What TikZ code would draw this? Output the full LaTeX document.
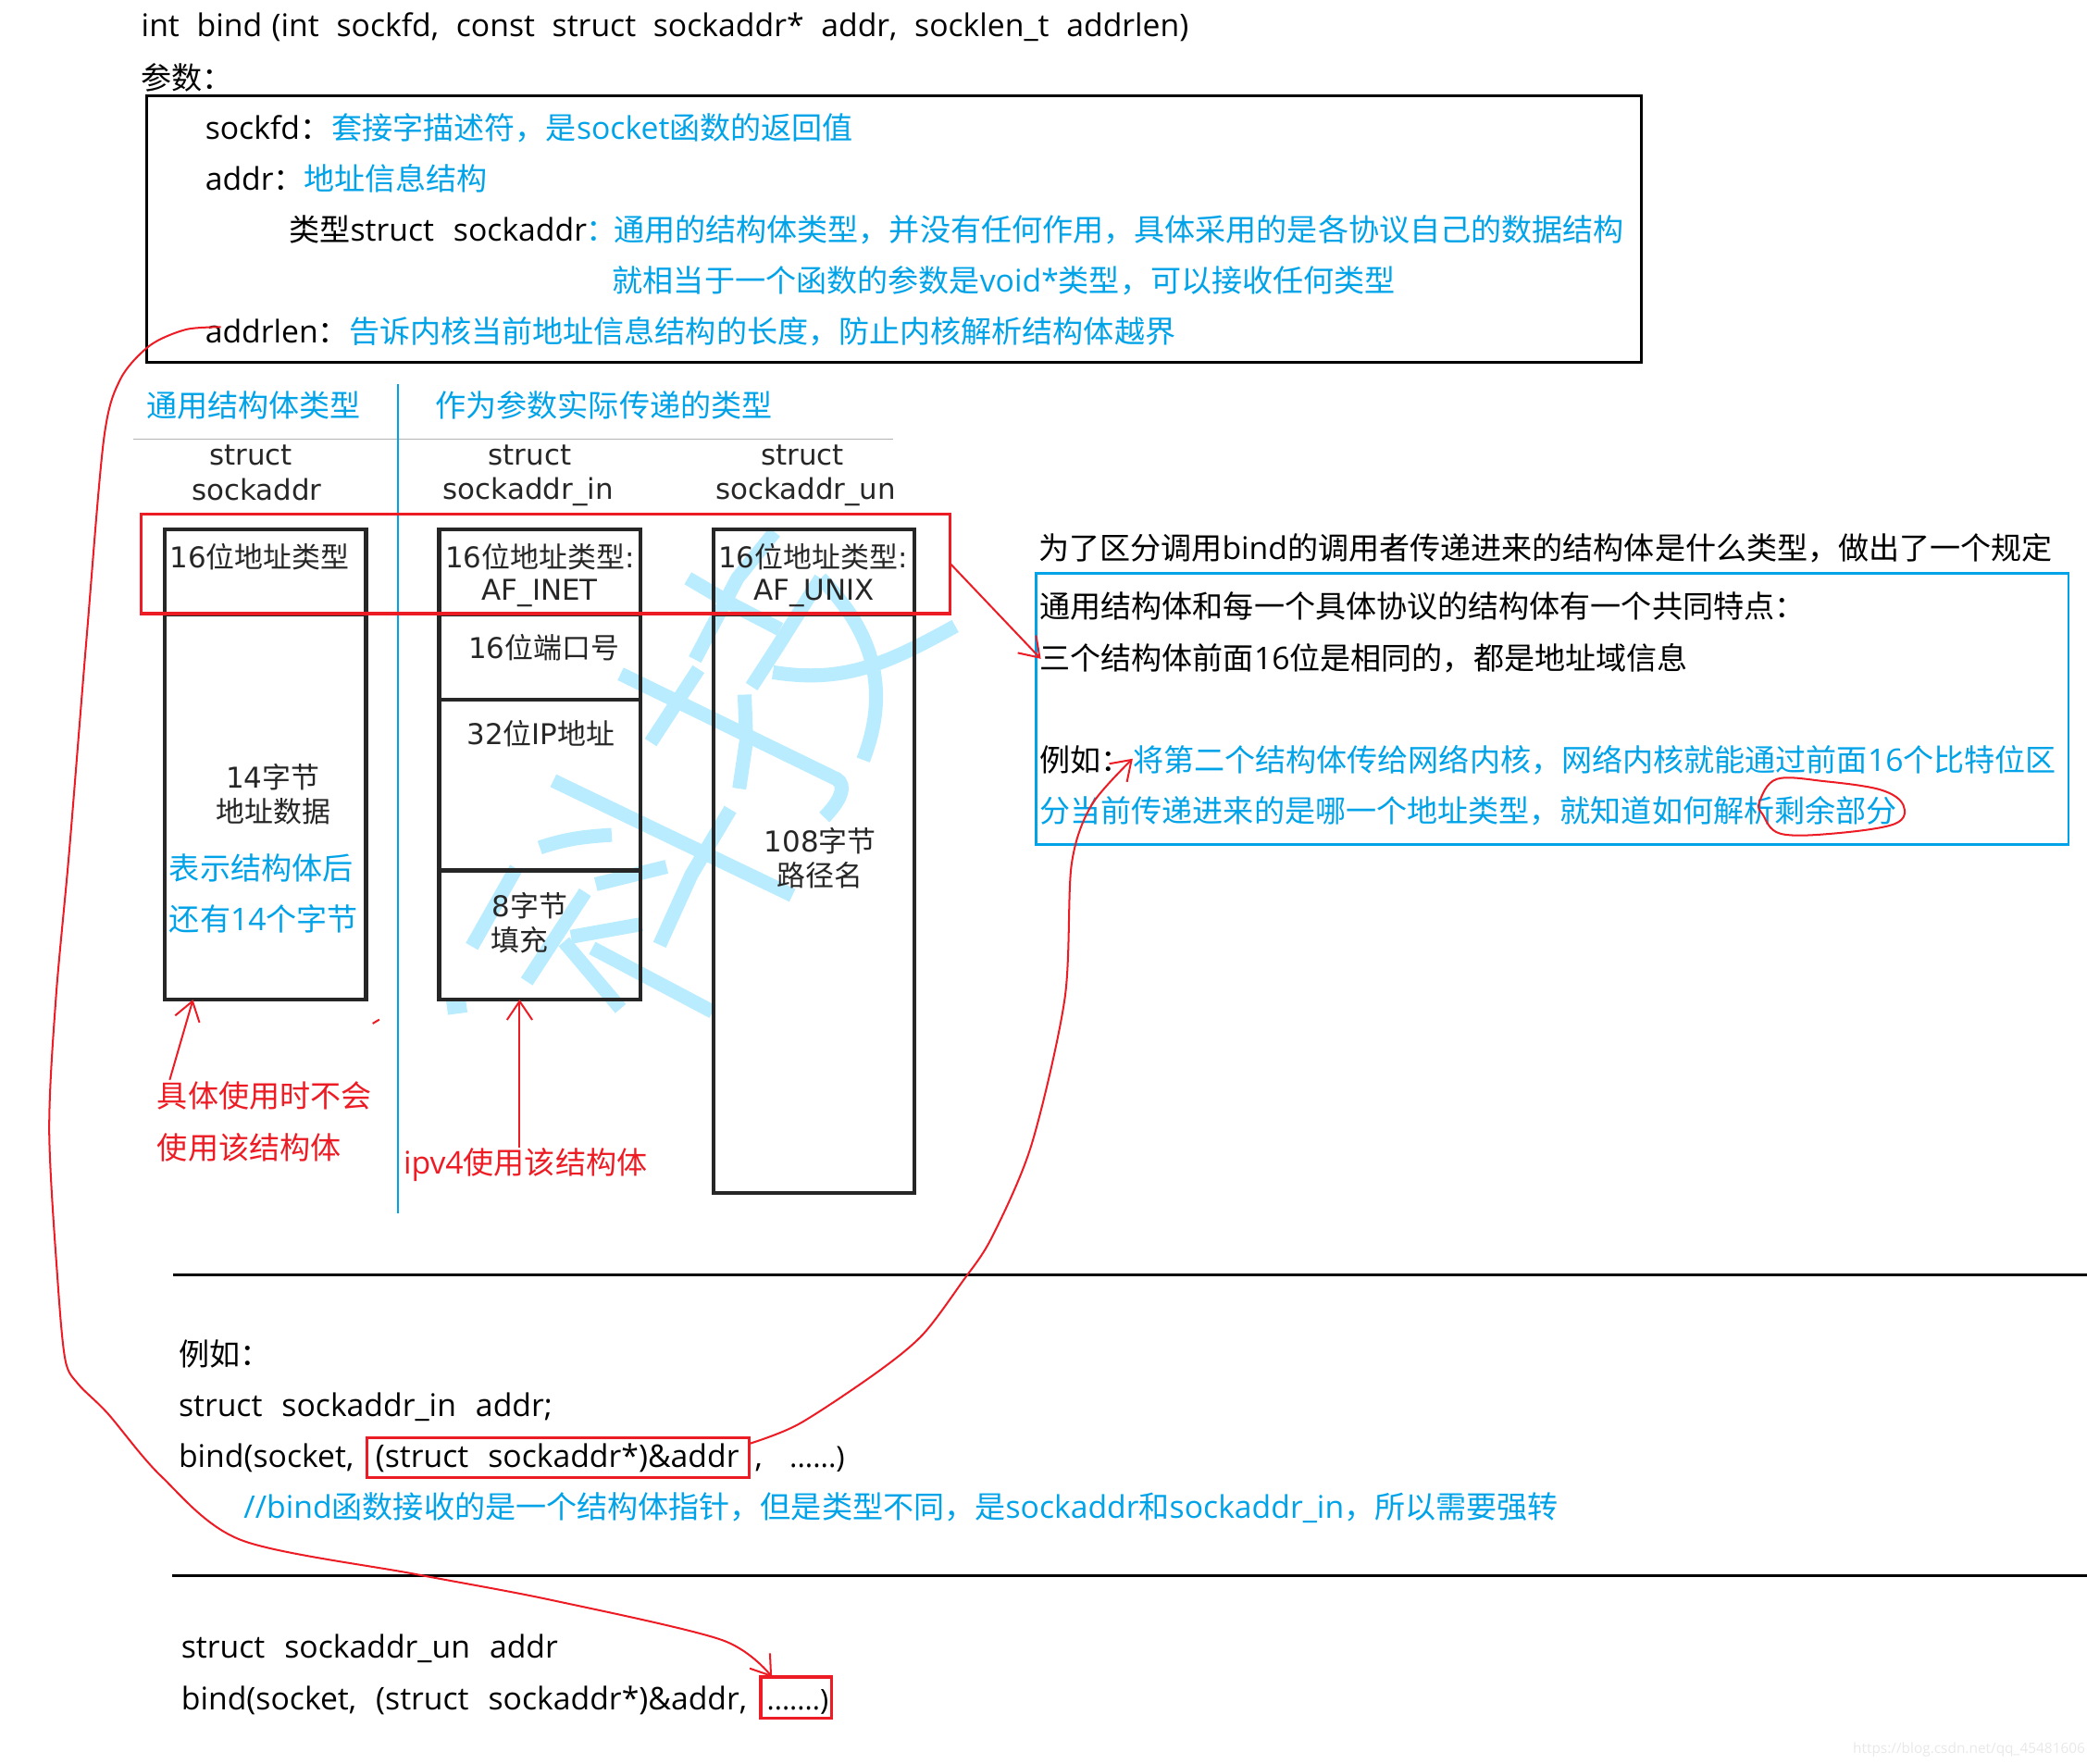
\documentclass[tikz,border=0pt]{standalone}
\usepackage{fontspec}
\setmainfont[Scale=1.02,WordSpace=1.2]{Open Sans}
\newfontfamily\cjk{Noto Sans CJK SC}
\newfontfamily\dv{DejaVu Sans}
\newcommand{\zh}[1]{{\cjk #1}}
\newcommand{\gap}{\hspace{13pt}}
\usetikzlibrary{positioning,arrows.meta}
\definecolor{skyblue}{RGB}{0,162,232}
\definecolor{paintred}{RGB}{237,28,36}
\definecolor{markblue}{RGB}{186,236,255}
\tikzstyle{txt} = [font=\fontsize{23}{28}\selectfont, anchor=base west, inner sep=0pt, text=black, yshift=-0.8pt]
\tikzstyle{bluetxt} = [txt, text=skyblue]
\tikzstyle{redtxt} = [txt, text=paintred]
\tikzstyle{celltxt} = [font=\dv\fontsize{21.5}{25}\selectfont, inner sep=0pt, text=black!85]
\tikzstyle{cell} = [rectangle, draw=black!85, line width=3pt, minimum width=151pt, inner sep=0pt, outer sep=0pt]
\tikzstyle{redbox} = [rectangle, draw=paintred, line width=2.2pt, inner sep=0pt, outer sep=0pt]
\tikzstyle{bluebox} = [rectangle, draw=skyblue, line width=2pt, inner sep=0pt, outer sep=0pt]
\tikzstyle{blackbox} = [rectangle, draw=black, line width=2.3pt, inner sep=0pt, outer sep=0pt]
\tikzstyle{rule} = [black, line width=1.8pt]
\tikzstyle{stroke} = [markblue, line width=10.5pt]
\tikzstyle{freehand} = [paintred, line width=1.4pt]
\tikzstyle{connect} = [freehand, -{Straight Barb[length=14pt,width=19pt]}]

\begin{document}
\begin{tikzpicture}[x=1pt,y=-1pt]
	\useasboundingbox (0,0) rectangle (1568,1324.7);

	\begin{scope}[shift={(319.9,403.3)},x=0.2661pt,y=-0.2395pt]
		\draw [stroke] (985,-15) -- (880,130) -- (760,385);
		\draw [stroke] (740,130) -- (870,215) -- (1000,290);
		\draw [stroke] (1115,130) -- (990,350) -- (920,470);
		\draw [stroke] (1115,130) .. controls (1220,250) and (1330,430) .. (1235,700);
		\draw [stroke] (980,425) .. controls (1180,460) and (1300,400) .. (1495,280);
		\draw [stroke] (550,430) -- (1160,760) .. controls (1190,780) and (1170,830) .. (1125,880);
		\draw [stroke] (770,415) -- (635,645);
		\draw [stroke] (900,495) -- (905,640) -- (885,790);
		\draw [stroke] (360,765) -- (1035,1125);
		\draw [stroke] (860,855) -- (750,1060) -- (660,1280);
		\draw [stroke] (322,975) .. controls (400,945) and (460,940) .. (525,935);
		\draw [stroke] (480,1090) -- (680,1035);
		\draw [stroke] (255,1040) -- (130,1285);
		\draw [stroke] (450,1115) -- (285,1395);
		\draw [stroke] (410,1255) -- (610,1215);
		\draw [stroke] (470,1290) -- (810,1490);
		\draw [stroke] (390,1270) -- (550,1480);
		\draw [stroke] (60,1478) -- (115,1470);
	\end{scope}

	\node (sighead) [txt] at (106,27) {int\gap bind (int\gap sockfd,\gap const\gap struct\gap sockaddr*\gap addr,\gap socklen\_t\gap addrlen)};
	\node (paramhead) [txt] at (106,66.3) {\zh{参数：}};
	\node (parambox) [blackbox,minimum width=1123pt,minimum height=200pt] at (671.5,172) {};

	\node (fdname) [txt] at (154,103.6) {sockfd\zh{：}};
	\node (fdtext) [bluetxt] at (249,103.6) {\zh{套接字描述符，是}socket\zh{函数的返回值}};
	\node (addrname) [txt] at (154,142) {addr\zh{：}};
	\node (addrtext) [bluetxt] at (228,142) {\zh{地址信息结构}};
	\node (typename) [txt] at (217,180.3) {\zh{类型}struct~~sockaddr};
	\node (typecolon) [bluetxt] at (440,180.3) {\zh{：}};
	\node (typetext) [bluetxt] at (461,180.3) {\zh{通用的结构体类型，并没有任何作用，具体采用的是各协议自己的数据结构}};
	\node (voidtext) [bluetxt] at (460,218.6) {\zh{就相当于一个函数的参数是}void*\zh{类型，可以接收任何类型}};
	\node (lenname) [txt] at (154,257) {addrlen\zh{：}};
	\node (lentext) [bluetxt] at (262,257) {\zh{告诉内核当前地址信息结构的长度，防止内核解析结构体越界}};

	\node (commonhead) [bluetxt] at (110,312.5) {\zh{通用结构体类型}};
	\node (passedhead) [bluetxt] at (327,312.5) {\zh{作为参数实际传递的类型}};
	\draw [black!30,line width=1pt] (100,330) -- (671,330);
	\draw [skyblue,line width=2pt] (299,288.7) -- (299,911.6);

	\node (sahead) [cell,minimum height=64pt] at (199.5,429.5) {};
	\node (sadata) [cell,minimum height=289.5pt,below=0pt of sahead] {};
	\node (inhead) [cell,minimum height=64pt] at (405.5,429.5) {};
	\node (inport) [cell,minimum height=64pt,below=0pt of inhead] {};
	\node (inip) [cell,minimum height=128.4pt,below=0pt of inport] {};
	\node (inpad) [cell,minimum height=97pt,below=0pt of inip] {};
	\node (unhead) [cell,minimum height=64pt] at (611.5,429.5) {};
	\node (unpath) [cell,minimum height=435pt,below=0pt of unhead] {};

	\node (saname) [celltxt] at (188.6,342) {struct};
	\node (saname2) [celltxt] at (192.8,367.5) {sockaddr};
	\node (inname) [celltxt] at (398,342) {struct};
	\node (inname2) [celltxt] at (396.8,369.5) {sockaddr\_in};
	\node (unname) [celltxt] at (602.8,342) {struct};
	\node (unname2) [celltxt] at (605.4,369.5) {sockaddr\_un};

	\node (satype) [celltxt] at (195,418) {16\zh{位地址类型}};
	\node (intype) [celltxt] at (405.6,418) {16\zh{位地址类型}:};
	\node (inaf) [celltxt] at (405.6,445.8) {AF\_INET};
	\node (untype) [celltxt] at (610.8,418) {16\zh{位地址类型}:};
	\node (unaf) [celltxt] at (611.7,445.8) {AF\_UNIX};
	\node (inportlab) [celltxt] at (408.6,486.8) {16\zh{位端口号}};
	\node (iniplab) [celltxt] at (406.4,551.3) {32\zh{位}IP\zh{地址}};
	\node (sabytes) [celltxt] at (205,583.7) {14\zh{字节}};
	\node (sadatalab) [celltxt] at (205.4,609.5) {\zh{地址数据}};
	\node (inbytes) [celltxt] at (398,680.6) {8\zh{字节}};
	\node (infill) [celltxt] at (390.4,706) {\zh{填充}};
	\node (unbytes) [celltxt] at (616.3,632) {108\zh{字节}};
	\node (unpathlab) [celltxt] at (616.3,657.5) {\zh{路径名}};

	\node (sanote) [bluetxt] at (127,660) {\zh{表示结构体后}};
	\node (sanote2) [bluetxt] at (127,698.3) {\zh{还有}14\zh{个字节}};
	\node (unused) [redtxt] at (118,831.5) {\zh{具体使用时不会}};
	\node (unused2) [redtxt] at (118,870) {\zh{使用该结构体}};
	\node (ipv4) [redtxt] at (303,881.5) {ipv4\zh{使用该结构体}};

	\node (headbox) [redbox,minimum width=608pt,minimum height=75pt] at (410,423.5) {};
	\node (rulehead) [txt] at (780,419.5) {\zh{为了区分调用}bind\zh{的调用者传递进来的结构体是什么类型，做出了一个规定}};
	\node (rulebox) [bluebox,minimum width=775.5pt,minimum height=203.5pt] at (1166.3,532.5) {};
	\node (rule1) [txt] at (781,463.5) {\zh{通用结构体和每一个具体协议的结构体有一个共同特点：}};
	\node (rule2) [txt] at (781,502) {\zh{三个结构体前面}16\zh{位是相同的，都是地址域信息}};
	\node (rule3) [txt] at (781,578.5) {\zh{例如：}};
	\node (rule3b) [bluetxt] at (851,578.5) {\zh{将第二个结构体传给网络内核，网络内核就能通过前面}16\zh{个比特位区}};
	\node (rule4) [bluetxt] at (781,617) {\zh{分当前传递进来的是哪一个地址类型，就知道如何解析剩余部分}};

	\draw [rule] (130,958) -- (1568,958);
	\draw [rule] (129,1184) -- (1568,1184);

	\node (inex) [txt] at (134,1025.5) {\zh{例如：}};
	\node (inex1) [txt] at (134,1063.5) {struct~~sockaddr\_in~~addr;};
	\node (inex2) [txt] at (134,1102) {bind(socket,};
	\node (castbox) [redbox,minimum width=287.5pt,minimum height=30pt] at (419.3,1095) {};
	\node (casttxt) [txt] at (282,1102) {(struct~~sockaddr*)\&addr};
	\node (inex3) [txt] at (567,1102) {,};
	\node (inex4) [txt,font=\fontsize{21.5}{28}\selectfont] at (593,1102) {......)};
	\node (inex5) [bluetxt] at (183,1140) {//bind\zh{函数接收的是一个结构体指针，但是类型不同，是}sockaddr\zh{和}sockaddr\_in\zh{，所以需要强转}};
	\node (unex1) [txt] at (136,1245) {struct~~sockaddr\_un~~addr};
	\node (unex2) [txt] at (136,1283.5) {bind(socket,~~(struct~~sockaddr*)\&addr,};
	\node (dotsbox) [redbox,minimum width=53.3pt,minimum height=31pt] at (598.2,1275.4) {};
	\node (dotstxt) [txt,font=\fontsize{21}{28}\selectfont] at (576,1283.5) {.......)};

	\node (wmark) [font=\fontsize{10.5}{12}\selectfont,text=black!9,anchor=base west,inner sep=0pt] at (1392,1317) {https://blog.csdn.net/qq\_45481606};

	\coordinate (satip) at (145,751);
	\coordinate (satail) at (127.5,811.3);
	\coordinate (intip) at (390.4,751);
	\coordinate (intail) at (390.4,862);
	\coordinate (ruletip) at (782,495);
	\coordinate (lenstart) at (166,245.7);
	\coordinate (dotstip) at (580,1260);
	\coordinate (caststart) at (562,1085);
	\coordinate (casttip) at (851,570);

	\draw [connect] (satail) -- (satip);
	\draw [connect] (intail) -- (intip);
	\draw [connect] (headbox.east) -- (ruletip);
	\draw [connect] plot [smooth,tension=0.5] coordinates {(lenstart) (139.6,247.6) (112.6,259.6) (90.4,285) (78,330) (65,480) (52,640) (42,750) (37,850) (43.4,963) (49.1,1022) (58.9,1040) (81,1062) (121,1109) (181,1157) (311.7,1182.6) (413.6,1202) (542,1232) (dotstip)};
	\draw [connect] plot [smooth,tension=0.5] coordinates {(caststart) (600,1070) (657.6,1032) (693,1003) (723,963) (745,930) (775,860) (800,750) (805,650) (820,605) (casttip)};
	\draw [freehand] plot [smooth cycle,tension=0.6] coordinates {(1335,585.3) (1371,587) (1413,593.4) (1430,605) (1423.5,619) (1376.6,626.3) (1337.5,626.3) (1324.4,612) (1321.8,602.7)};
	\draw [freehand] (280,769) -- (285,766);
\end{tikzpicture}
\end{document}
